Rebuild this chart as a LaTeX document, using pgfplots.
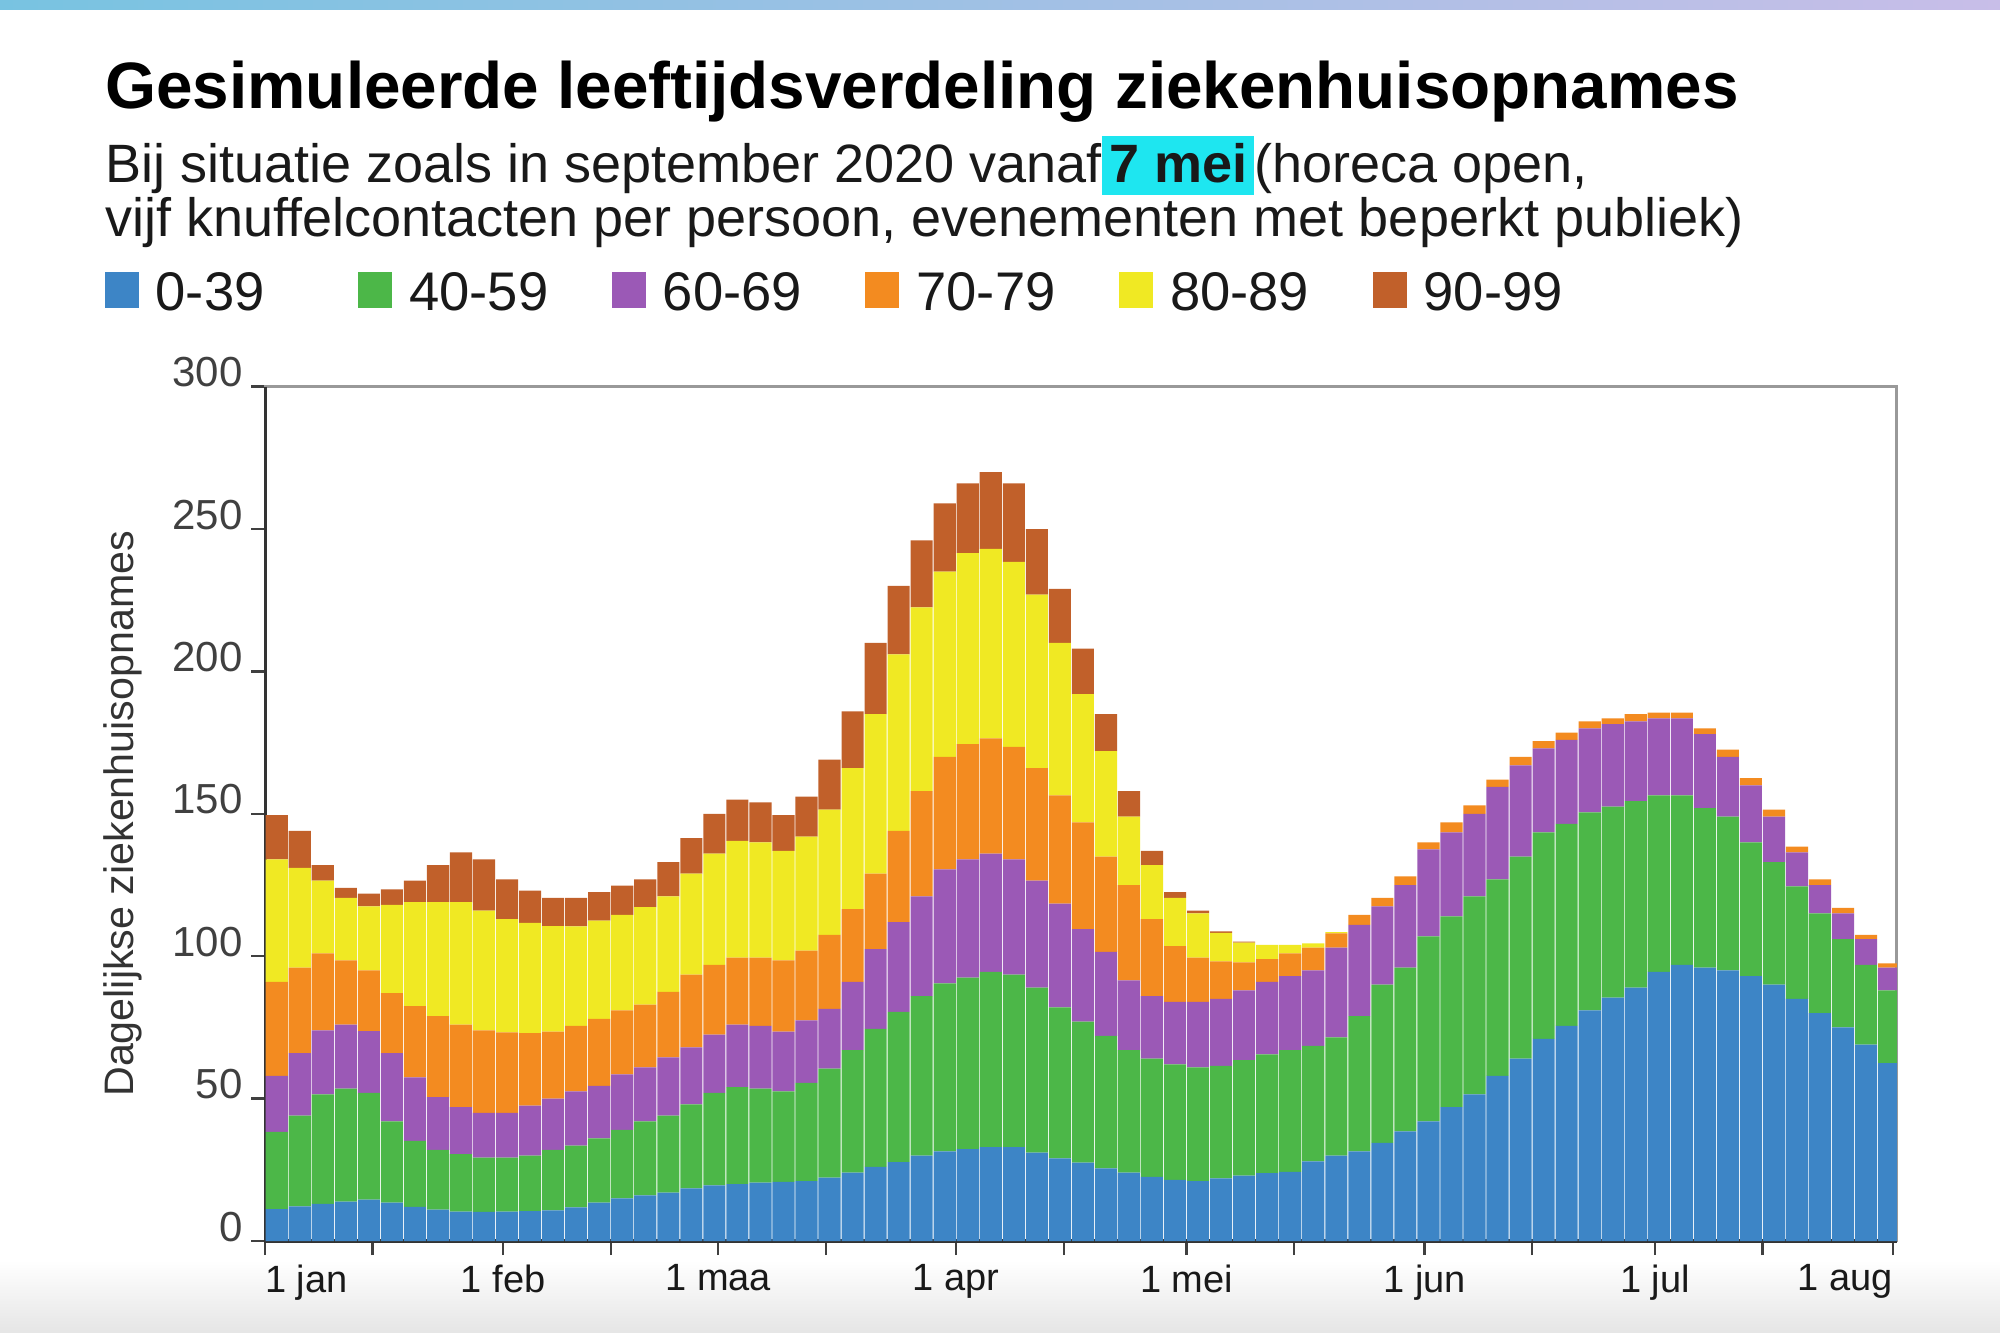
\documentclass[border=0pt]{standalone}
\usepackage{fontspec}
\setmainfont{Liberation Sans}
\usepackage{pgfplots}
\usepackage{pgfplotstable}
\pgfplotsset{compat=1.18}
\definecolor{c0}{RGB}{61,133,198}
\definecolor{c1}{RGB}{76,183,72}
\definecolor{c2}{RGB}{155,89,182}
\definecolor{c3}{RGB}{243,139,32}
\definecolor{c4}{RGB}{240,233,35}
\definecolor{c5}{RGB}{193,96,42}
\definecolor{hl}{RGB}{30,230,240}
\definecolor{txt}{RGB}{25,25,25}
\pgfplotstableread{
x b g p o y r
1.5 11.2 27.1 19.7 33 43 15.5
4.5 12.2 31.8 22 30 35 13
7.5 13 38.5 22.5 27 25.5 5.5
10.5 13.8 39.7 22.5 22.5 22 3.5
13.5 14.5 37.5 21.7 21.3 22.5 4.5
16.5 13.5 28.5 24 21 31 5.5
19.5 12 23.2 22.3 25 36.5 7.5
22.5 11 21 18.5 28.5 40 13
25.5 10.3 20.2 16.5 29 43 17.5
28.5 10.2 19.1 15.7 29 42 18
31.5 10.3 19 15.7 28.3 39.7 14
34.5 10.5 19.5 17.5 25.5 38.7 11.3
37.5 10.8 21.2 18 23.5 37.1 9.9
40.5 11.8 21.7 19 23 35 10
43.5 13.5 22.5 18.5 23.5 34.5 10
46.5 15 24 19.5 22.5 33.5 10.3
49.5 16 26 19 22 34.2 9.8
52.5 17 27 20.5 23 33.5 12
55.5 18.5 29.5 20 25.5 35.5 12.5
58.5 19.5 32.5 20.5 24.5 39 14
61.5 20 34 22 23.5 41 14.5
64.5 20.5 33 22 24 40.5 14
67.5 20.8 31.7 21 25 38.5 12.5
70.5 21 34.5 22 24.5 40 14
73.5 22.3 38.2 21 26 44 17.5
76.5 24 43 24 25.5 49.5 20
79.5 26 48.5 28 26.5 56 25
82.5 27.7 52.8 31.5 32 62 24
85.5 30 56 35 37 64.5 23.5
88.5 31.5 59 40 39.5 65 24
91.5 32.3 60.2 41.5 40.5 67 24.5
94.5 33 61.5 41.5 40.5 66.5 27
97.5 33 60.5 40.5 39.5 65 27.5
100.5 31 58 37.5 39.5 61 23
103.5 29 53 36.5 38 53.5 19
106.5 27.5 49.5 32.5 37.5 45 16
109.5 25.5 46.5 29.5 33.5 37 13
112.5 24 43 24.5 33.5 24 9
115.5 22.5 41.5 22 27 19 5
118.5 21.5 40.5 22 19.5 17 2
121.5 21 40 23 15.5 15.5 1
124.5 22 39.5 23.5 13.2 10 0.5
127.5 23 40.5 24.5 9.8 7 0.3
130.5 23.8 41.7 25.5 8 5 0
133.5 24.3 42.7 26 8 3 0
136.5 28 40.5 26.5 8 1.5 0
139.5 30 41.5 31.5 5 0.5 0
142.5 31.5 47.5 32 3.5 0 0
145.5 34.5 55.5 27.5 3 0 0
148.5 38.5 57.5 29 3 0 0
151.5 42 65 30.5 2.5 0 0
154.5 47 67 29.5 3.5 0 0
157.5 51.5 69.5 29 3 0 0
160.5 58 69 32.5 2.5 0 0
163.5 64 71 32 3 0 0
166.5 71 72.5 29.5 2.5 0 0
169.5 75.5 71 29.5 2.5 0 0
172.5 81 69.5 29.5 2.5 0 0
175.5 85.5 67 29 2 0 0
178.5 89 65.5 28 2.5 0 0
181.5 94.5 62 27 2 0 0
184.5 97 59.5 27 2 0 0
187.5 96 56 26 2 0 0
190.5 95 54 21 2.5 0 0
193.5 93 47 20 2.5 0 0
196.5 90 43 16 2.5 0 0
199.5 85 39.5 12 2 0 0
202.5 80 35 10 2 0 0
205.5 75 31 9 2 0 0
208.5 69 28 9 1.5 0 0
211.5 62.5 25.5 8 1.5 0 0
}\data
\pgfplotsset{sqleg/.style={legend image code/.code={\fill[##1] (0pt,-3.35pt) rectangle (8.5pt,5.65pt);}}}
\begin{document}
\begin{tikzpicture}
\path[use as bounding box] (0,0) rectangle (500pt,333pt);
\shade[top color=white, bottom color=black!10] (0,0) rectangle (500pt,18pt);
\shade[left color={rgb,255:red,120;green,195;blue,225}, right color={rgb,255:red,200;green,190;blue,232}] (0,330.5pt) rectangle (500pt,333pt);
\node[anchor=base west, inner sep=0pt, text=black] at (26.15pt,305.9pt) {\fontsize{16.4}{19}\selectfont\bfseries Gesimuleerde leeftijdsverdeling ziekenhuisopnames};
\node[anchor=base west, inner sep=0pt, text=txt] at (26.15pt,287.4pt) {\fontsize{13.5}{14}\selectfont Bij situatie zoals in september 2020 vanaf\setlength{\fboxsep}{1.8pt}\colorbox{hl}{\rule[-1.3pt]{0pt}{11pt}\bfseries 7 mei}(horeca open,};
\node[anchor=base west, inner sep=0pt, text=txt] at (26.15pt,274pt) {\fontsize{13.5}{14}\selectfont vijf knuffelcontacten per persoon, evenementen met beperkt publiek)};
\begin{axis}[
  at={(66.3pt,22.75pt)}, anchor=south west,
  scale only axis, width=407.9pt, height=213.6pt,
  xmin=0, xmax=212.5, ymin=0, ymax=300,
  ybar stacked, bar width=2.88,
  clip mode=individual,
  xtick={0,31,59,90,120,151,181,212},
  xticklabels={\makebox[0pt][l]{1 jan},1 feb,1 maa,1 apr,1 mei,1 jun,1 jul,\makebox[0pt][r]{1 aug}},
  minor xtick={14,45,73,104,134,165,195},
  ytick={0,50,100,150,200,250,300},
  tick pos=left, tick align=outside,
  major tick length=3.5pt, minor tick length=3.5pt,
  every tick/.style={black!75, line width=0.6pt},
  axis line style={draw=black!40, line width=0.7pt},
  /pgf/number format/assume math mode=true,
  xticklabel style={font=\fontsize{9.5}{10}\selectfont, text=txt, inner sep=1pt, yshift=-1.2pt},
  yticklabel style={font=\fontsize{10.5}{11}\selectfont, text=black!75, anchor=base east, inner sep=0pt, xshift=-2pt},
  ylabel={Dagelijkse ziekenhuisopnames},
  every axis y label/.style={at={(axis description cs:-0.0875,0.5)}, rotate=90, anchor=center, font=\fontsize{10.3}{11}\selectfont, text=black!80},
  legend columns=6,
  legend style={at={(axis description cs:-0.0984,1.1346)}, anchor=north west, draw=none, fill=none, inner sep=0pt, outer sep=0pt,
    font=\fontsize{13.6}{14}\selectfont, text=txt, column sep=0pt,
    /tikz/every odd column/.style={column sep=4.25pt}, nodes={inner sep=0pt}},
]
\addplot[fill=c0, draw=none, sqleg] table[x=x,y=b]{\data};
\addlegendentry{\makebox[50.65pt][l]{0-39}}
\addplot[fill=c1, draw=none, sqleg] table[x=x,y=g]{\data};
\addlegendentry{\makebox[50.65pt][l]{40-59}}
\addplot[fill=c2, draw=none, sqleg] table[x=x,y=p]{\data};
\addlegendentry{\makebox[50.65pt][l]{60-69}}
\addplot[fill=c3, draw=none, sqleg] table[x=x,y=o]{\data};
\addlegendentry{\makebox[50.65pt][l]{70-79}}
\addplot[fill=c4, draw=none, sqleg] table[x=x,y=y]{\data};
\addlegendentry{\makebox[50.65pt][l]{80-89}}
\addplot[fill=c5, draw=none, sqleg] table[x=x,y=r]{\data};
\addlegendentry{\makebox[50.65pt][l]{90-99}}
\draw[black!80, line width=0.8pt] (rel axis cs:0,1) -- (rel axis cs:0,0) -- (rel axis cs:1,0);
\end{axis}
\end{tikzpicture}
\end{document}
